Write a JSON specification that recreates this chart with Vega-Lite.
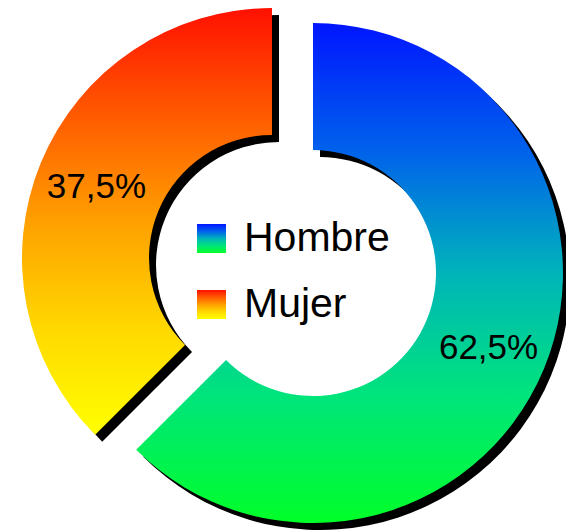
{
  "$schema": "https://vega.github.io/schema/vega-lite/v6.json",
  "autosize": {"type": "fit", "contains": "padding"},
  "width": 566,
  "height": 532,
  "padding": {"left": 19, "top": 0, "right": 0, "bottom": 1},
  "background": "white",
  "view": {"stroke": null},
  "data": {
    "values": [
      {"sexo": "Hombre", "valor": 62.5, "etiqueta": "62,5%"},
      {"sexo": "Mujer", "valor": 37.5, "etiqueta": "37,5%"}
    ]
  },
  "layer": [
    {
      "mark": {
        "type": "arc",
        "innerRadius": 123,
        "outerRadius": 250,
        "color": "black",
        "xOffset": {"expr": "datum.sexo === 'Hombre' ? 27.5 : -13.5"},
        "yOffset": {"expr": "datum.sexo === 'Hombre' ? 14.5 : -0.5"}
      },
      "encoding": {
        "theta": {"field": "valor", "type": "quantitative", "stack": true},
        "order": {"field": "sexo"}
      }
    },
    {
      "mark": {
        "type": "arc",
        "innerRadius": 123,
        "outerRadius": 250,
        "color": {"expr": "(datum.sexo || datum.value) === 'Hombre' ? {'gradient': 'linear', 'x1': 0, 'y1': 0, 'x2': 0, 'y2': 1, 'stops': [{'offset': 0, 'color': '#0015ff'}, {'offset': 0.25, 'color': '#0060ec'}, {'offset': 0.5, 'color': '#00b4ba'}, {'offset': 0.75, 'color': '#00e57a'}, {'offset': 1, 'color': '#00ff28'}]} : {'gradient': 'linear', 'x1': 0, 'y1': 0, 'x2': 0, 'y2': 1, 'stops': [{'offset': 0, 'color': '#ff1000'}, {'offset': 0.25, 'color': '#ff5a00'}, {'offset': 0.5, 'color': '#ffa000'}, {'offset': 0.75, 'color': '#ffd800'}, {'offset': 1, 'color': '#ffff00'}]}"},
        "xOffset": {"expr": "datum.sexo === 'Hombre' ? 20.5 : -20.5"},
        "yOffset": {"expr": "datum.sexo === 'Hombre' ? 7.5 : -7.5"}
      },
      "encoding": {
        "theta": {"field": "valor", "type": "quantitative", "stack": true},
        "order": {"field": "sexo"},
        "opacity": {
          "field": "sexo",
          "type": "ordinal",
          "scale": {"domain": ["Hombre", "Mujer"], "range": [1, 1]},
          "legend": {
            "title": null,
            "orient": "none",
            "legendX": 172,
            "legendY": 218,
            "padding": 0,
            "symbolType": "square",
            "symbolSize": 841,
            "symbolStrokeWidth": 0,
            "labelFont": "Liberation Sans",
            "labelFontSize": 41,
            "labelColor": "black",
            "labelOffset": 12,
            "rowPadding": 24,
            "labelLimit": 400
          }
        }
      }
    },
    {
      "mark": {
        "type": "text",
        "radius": 190,
        "font": "Liberation Sans",
        "fontSize": 35,
        "color": "black",
        "baseline": "middle",
        "align": "center",
        "dy": 2,
        "xOffset": {"expr": "datum.sexo === 'Hombre' ? 20.5 : -20.5"},
        "yOffset": {"expr": "datum.sexo === 'Hombre' ? 7.5 : -7.5"}
      },
      "encoding": {
        "theta": {"field": "valor", "type": "quantitative", "stack": true},
        "order": {"field": "sexo"},
        "text": {"field": "etiqueta", "type": "nominal"}
      }
    }
  ]
}
